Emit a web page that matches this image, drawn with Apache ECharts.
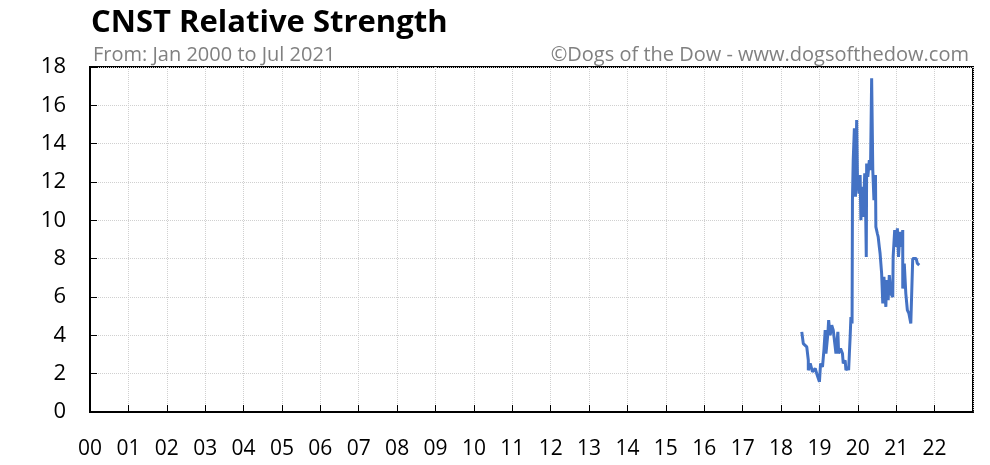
<!DOCTYPE html>
<html>
<head>
<meta charset="utf-8">
<script src="https://cdn.jsdelivr.net/npm/echarts@6/dist/echarts.min.js"></script>
<style>html,body{margin:0;padding:0;background:#fff}#c{width:990px;height:465px}</style>
</head>
<body>
<div id="c"></div>
<script>
// Years since 2000 (fractional) and relative strength values
var years = [18.54,18.58,18.67,18.71,18.71,18.76,18.82,18.89,18.93,18.97,19.00,19.03,19.08,19.12,19.15,19.17,19.22,19.24,19.28,19.32,19.36,19.41,19.43,19.48,19.50,19.55,19.60,19.62,19.67,19.69,19.74,19.76,19.78,19.80,19.82,19.85,19.86,19.88,19.91,19.94,19.97,19.99,20.03,20.06,20.08,20.12,20.14,20.18,20.20,20.22,20.23,20.26,20.30,20.33,20.36,20.39,20.42,20.46,20.47,20.51,20.53,20.56,20.58,20.62,20.65,20.68,20.73,20.75,20.79,20.82,20.86,20.91,20.92,20.96,21.00,21.03,21.06,21.10,21.14,21.17,21.17,21.21,21.25,21.29,21.33,21.38,21.41,21.43,21.47,21.52,21.55,21.59,21.60];
var values = [4.18,3.57,3.40,2.70,2.18,2.53,2.09,2.27,2.00,2.09,1.57,2.53,2.35,3.31,4.27,3.05,4.09,4.79,4.00,4.53,4.27,3.40,3.05,4.18,3.05,3.31,3.05,2.53,2.70,2.18,2.35,2.18,3.05,3.92,4.96,4.62,11.05,13.14,14.80,11.23,15.23,12.27,11.40,12.36,10.01,11.75,10.18,12.45,11.05,8.09,12.97,12.27,13.14,12.62,17.41,12.62,11.05,12.36,9.66,9.30,9.14,8.60,8.27,7.23,5.66,7.05,5.48,6.88,5.83,7.14,6.18,6.00,8.09,9.49,8.62,9.58,8.09,9.40,8.62,9.49,6.44,7.75,6.18,5.31,5.14,4.62,4.62,8.01,7.92,8.01,7.75,7.83,7.66];
var xTickLabels = ['00','01','02','03','04','05','06','07','08','09','10','11','12','13','14','15','16','17','18','19','20','21','22'];
var yTicks = [0,2,4,6,8,10,12,14,16,18];

var chart = echarts.init(document.getElementById('c'), null, {renderer:'canvas'});
var pts = years.map(function(x,i){return [x, values[i]];});
var font = "'Open Sans', 'Noto Sans', sans-serif";
chart.setOption({
  animation:false,
  backgroundColor:'#fff',
  title:[
    {text:'CNST Relative Strength', left:86, top:3, textStyle:{fontFamily:font, fontWeight:'bold', fontSize:31, color:'#000'}},
    {text:'From: Jan 2000 to Jul 2021', left:88, top:40, textStyle:{fontFamily:font, fontWeight:'normal', fontSize:20, color:'#808080'}},
    {text:'\u00a9Dogs of the Dow - www.dogsofthedow.com', right:16, top:40, textStyle:{fontFamily:font, fontWeight:'normal', fontSize:20, color:'#808080'}}
  ],
  grid:{left:90, right:17, top:67, bottom:53, show:true, borderColor:'#000', borderWidth:2, backgroundColor:'transparent'},
  xAxis:{type:'value', min:0, max:23, interval:1,
    axisLine:{show:true, lineStyle:{color:'#000', width:2}},
    axisTick:{show:true, inside:true, length:7, lineStyle:{color:'#000'}},
    splitLine:{show:true, lineStyle:{color:'#d0d0d0', type:'dotted', width:1}},
    axisLabel:{margin:27, fontFamily:font, fontSize:21, color:'#000', showMaxLabel:false,
      formatter:function(v){var i=Math.round(v); return i < xTickLabels.length ? xTickLabels[i] : '';}}
  },
  yAxis:{type:'value', min:yTicks[0], max:yTicks[yTicks.length-1], interval:2,
    axisLine:{show:true, lineStyle:{color:'#000', width:2}},
    axisTick:{show:true, inside:true, length:7, lineStyle:{color:'#000'}},
    splitLine:{show:true, lineStyle:{color:'#d0d0d0', type:'dotted', width:1}},
    axisLabel:{margin:24, fontFamily:font, fontSize:22, color:'#000'}
  },
  series:[{type:'line', data:pts, showSymbol:false, symbol:'none',
    lineStyle:{color:'#4472C4', width:3}, z:3}]
});
</script>
</body>
</html>
